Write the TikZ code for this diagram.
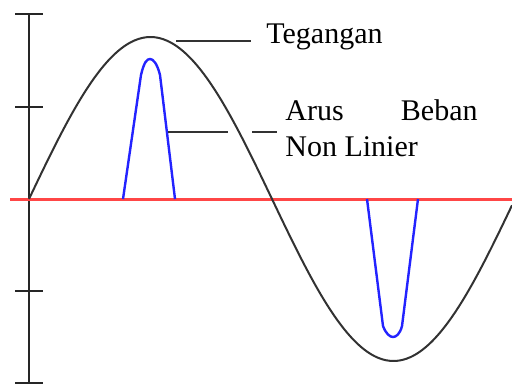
\documentclass[tikz,border=0pt]{standalone}
\usepackage{fontspec}
\setmainfont{Liberation Serif}
\usetikzlibrary{positioning}
\definecolor{voltgray}{RGB}{50,50,50}
\definecolor{currblue}{RGB}{35,35,255}
\definecolor{zerored}{RGB}{255,70,70}

\begin{document}
\begin{tikzpicture}[x=0.5pt, y=-0.5pt,
  axisline/.style={draw=black!85, line width=1pt},
  voltline/.style={draw=voltgray, line width=1pt},
  currline/.style={draw=currblue, line width=1.2pt, line join=round},
  zeroline/.style={draw=zerored, line width=1.5pt},
  leader/.style={draw=voltgray, line width=1pt},
  lbl/.style={anchor=base west, inner sep=0pt, font=\fontsize{15}{18}\selectfont},
]
\useasboundingbox (0,0) rectangle (512,386);

%% AXIS
\draw[axisline] (29,14) -- (29,383);
\foreach \ty in {14,107,291,383}
  \draw[axisline] (15,\ty) -- (43,\ty);

%% ZERO LINE
\draw[zeroline] (10,199) -- (512,199);

%% VOLTAGE
\draw[voltline] plot[domain=29:512, samples=120, smooth]
  (\x, {199-162*sin(0.74074*(\x-29))});

%% CURRENT PULSES
\draw[currline] (123,199) -- (141,75) .. controls (144,62) and (147,59) .. (150,59)
  .. controls (153,59) and (157,63) .. (160,75) -- (175,199);
\draw[currline] (367,199) -- (383,326) .. controls (386,334) and (390,337) .. (393,337)
  .. controls (396,337) and (400,334) .. (402,326) -- (418,199);

%% LABELS
\node[lbl] (tegangan)  at (266,43)  {Tegangan};
\node[lbl] (arus)      at (285,120) {Arus};
\node[lbl, anchor=base east] (beban) at (478,120) {Beban};
\node[lbl] (nonlinier) at (285,156) {Non Linier};

\coordinate (vpeak)  at (176,41);
\coordinate (vend)   at (251,41);
\coordinate (ipulse) at (168,132);
\coordinate (gapa)   at (228,132);
\coordinate (gapb)   at (252,132);
\coordinate (iend)   at (277,132);

\draw[leader] (vpeak) -- (vend);
\draw[leader] (ipulse) -- (gapa);
\draw[leader] (gapb) -- (iend);
\end{tikzpicture}
\end{document}
